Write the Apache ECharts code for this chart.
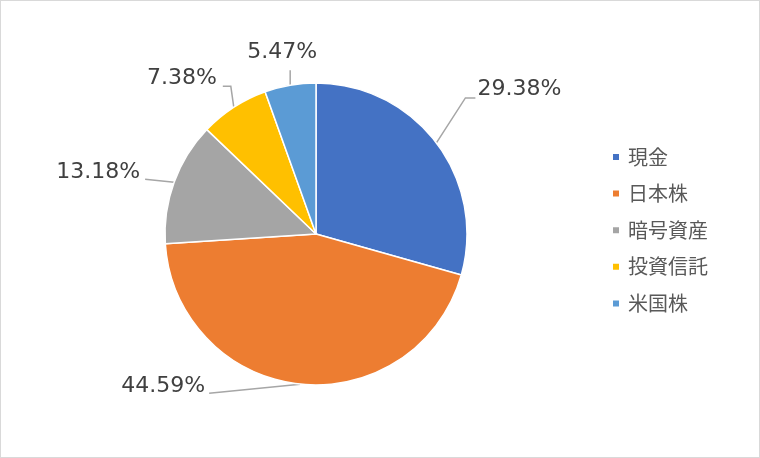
<!DOCTYPE html>
<html>
<head>
<meta charset="utf-8">
<script src="https://cdn.jsdelivr.net/npm/echarts@6/dist/echarts.min.js"></script>
<style>
  html, body { margin: 0; padding: 0; background: #fff; }
  #chart { width: 760px; height: 458px; box-sizing: border-box; border: 1px solid #d9d9d9; }
</style>
</head>
<body>
<div id="chart"></div>
<script>
// ---- data ----
var categories = ['現金', '日本株', '暗号資産', '投資信託', '米国株'];
var shares = [29.38, 44.59, 13.18, 7.38, 5.47];
var colors = ['#4472C4', '#ED7D31', '#A5A5A5', '#FFC000', '#5B9BD5'];

// label guide offsets relative to the slice-edge anchor (style only)
var guide = [
  { corner: [29, -45], end: [39, -45], text: [41, -54], align: 'left' },
  { corner: [-91, 9], end: [-91, 9], text: [-95, 2], align: 'right' },
  { corner: [-29, -3], end: [-29, -3], text: [-34, -10], align: 'right' },
  { corner: [-3, -21], end: [-11, -21], text: [-17, -29], align: 'right' },
  { corner: [0, -15], end: [0, -15], text: [-8, -33], align: 'center' }
];

var chart = echarts.init(document.getElementById('chart'));
chart.setOption({
  animation: false,
  color: colors,
  legend: {
    orient: 'vertical',
    left: 605,
    top: 141,
    icon: 'rect',
    itemWidth: 8,
    itemHeight: 8,
    itemGap: 16.6,
    data: categories,
    textStyle: {
      fontFamily: '"Noto Sans CJK JP", sans-serif',
      fontSize: 20,
      lineHeight: 20,
      color: '#595959',
      padding: [0, 0, 0, 3]
    }
  },
  series: [{
    type: 'pie',
    center: [315, 233],
    radius: 151,
    startAngle: 90,
    clockwise: true,
    avoidLabelOverlap: false,
    itemStyle: { borderColor: '#ffffff', borderWidth: 1.5 },
    emphasis: { disabled: true },
    label: {
      show: true,
      position: 'outside',
      fontFamily: '"DejaVu Sans", Verdana, sans-serif',
      fontSize: 22,
      color: '#404040',
      formatter: function (p) { return p.value.toFixed(2) + '%'; }
    },
    labelLine: {
      show: true,
      length: 20,
      length2: 10,
      smooth: false,
      lineStyle: { color: '#a6a6a6', width: 1.5 }
    },
    labelLayout: function (params) {
      var g = guide[params.dataIndex];
      var pts = params.labelLinePoints;
      if (!pts || !g) return {};
      var s = pts[0];
      return {
        x: s[0] + g.text[0],
        y: s[1] + g.text[1],
        align: g.align,
        verticalAlign: 'middle',
        labelLinePoints: [
          [s[0], s[1]],
          [s[0] + g.corner[0], s[1] + g.corner[1]],
          [s[0] + g.end[0], s[1] + g.end[1]]
        ]
      };
    },
    data: categories.map(function (name, i) {
      return { name: name, value: shares[i] };
    })
  }]
});
</script>
</body>
</html>
